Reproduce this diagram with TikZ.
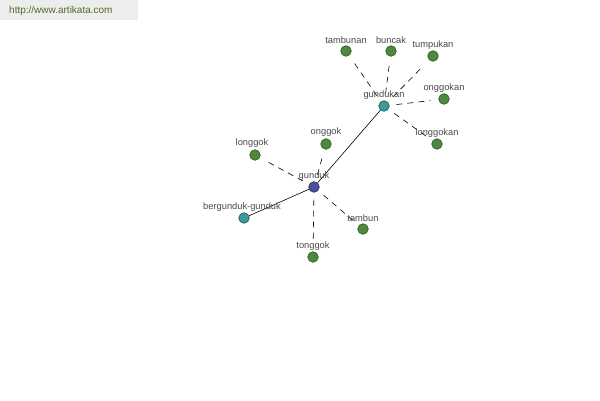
\documentclass[tikz,border=0pt]{standalone}
\usepackage{fontspec}
\setmainfont{Liberation Sans}
\definecolor{leaf}{HTML}{4E8A3E}
\definecolor{leafd}{HTML}{2F5A25}
\definecolor{tealn}{HTML}{3E9A98}
\definecolor{teald}{HTML}{24605E}
\definecolor{bluen}{HTML}{4A4E9E}
\definecolor{blued}{HTML}{2A2C66}
\definecolor{lbl}{HTML}{4A4A4A}
\definecolor{url}{HTML}{4E6A2A}
\tikzset{
  dot/.style={circle,minimum size=10.5pt,inner sep=0pt,line width=0.7pt},
  gdot/.style={dot,fill=leaf,draw=leafd},
  tdot/.style={dot,fill=tealn,draw=teald},
  bdot/.style={dot,fill=bluen,draw=blued},
  lab/.style={font=\fontsize{9.3}{10}\selectfont,text=lbl,inner sep=0pt},
  dline/.style={dashed,dash pattern=on 6pt off 5pt,line width=0.6pt,shorten <=7pt,shorten >=8pt},
  sline/.style={line width=0.6pt},
}
\begin{document}
\begin{tikzpicture}[x=1pt,y=-1pt]
\useasboundingbox (0,0) rectangle (600,400);
\fill[white] (0,0) rectangle (600,400);
\node[fill=black!7,minimum width=138pt,minimum height=20pt,anchor=north west,inner sep=0pt] (hdr) at (0,0) {};
\node[anchor=west,font=\fontsize{10}{11}\selectfont,text=url,inner sep=0pt] (urltxt) at (9,11) {http://www.artikata.com};

\node[bdot] (gunduk) at (314,187) {};
\node[tdot] (gundukan) at (384,106) {};
\node[tdot] (bergunduk) at (244,218) {};
\node[gdot] (longgok) at (255,155) {};
\node[gdot] (onggok) at (326,144) {};
\node[gdot] (tambun) at (363,229) {};
\node[gdot] (tonggok) at (313,257) {};
\node[gdot] (tambunan) at (346,51) {};
\node[gdot] (buncak) at (391,51) {};
\node[gdot] (tumpukan) at (433,56) {};
\node[gdot] (onggokan) at (444,99) {};
\node[gdot] (longgokan) at (437,144) {};

\draw[sline] (gunduk) -- (gundukan);
\draw[sline] (gunduk) -- (bergunduk);
\foreach \n in {longgok,onggok,tambun,tonggok}
  \draw[dline] (gunduk) -- (\n);
\foreach \n in {tambunan,buncak,tumpukan,onggokan,longgokan}
  \draw[dline] (gundukan) -- (\n);

\node[lab] (L-gunduk) at (314,176) {gunduk};
\node[lab] (L-gundukan) at (384,95) {gundukan};
\node[lab] (L-bergunduk) at (242,207) {bergunduk-gunduk};
\node[lab] (L-longgok) at (252,143) {longgok};
\node[lab] (L-onggok) at (326,132) {onggok};
\node[lab] (L-tambun) at (363,218) {tambun};
\node[lab] (L-tonggok) at (313,246) {tonggok};
\node[lab] (L-tambunan) at (346,40) {tambunan};
\node[lab] (L-buncak) at (391,40) {buncak};
\node[lab] (L-tumpukan) at (433,45) {tumpukan};
\node[lab] (L-onggokan) at (444,88) {onggokan};
\node[lab] (L-longgokan) at (437,133) {longgokan};
\end{tikzpicture}
\end{document}
